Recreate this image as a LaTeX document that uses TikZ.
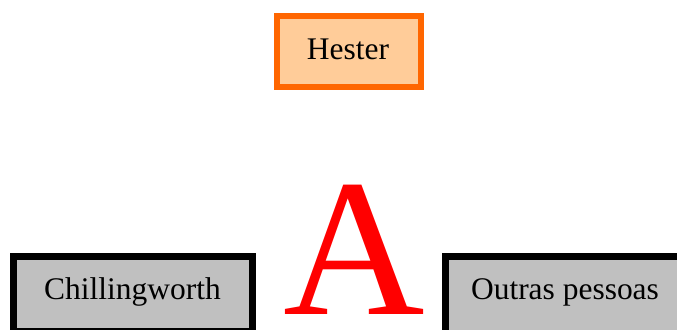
\documentclass[tikz,border=0pt]{standalone}
\usepackage{fontspec}
\setmainfont{Liberation Serif}
\definecolor{hesterfill}{HTML}{FFCC99}
\definecolor{hesterline}{HTML}{FF6600}
\definecolor{boxgray}{HTML}{C0C0C0}
\begin{document}
\begin{tikzpicture}[x=0.75pt,y=-0.75pt,
  box/.style={draw, rectangle, inner sep=0pt, outer sep=0pt},
  label/.style={font=\fontsize{23.6pt}{28pt}\selectfont, anchor=base, inner sep=0pt}]
\useasboundingbox (0,0) rectangle (677,329);
\clip (0,0) rectangle (677,329);
% Hester
\node[box, fill=hesterfill, draw=hesterline, line width=4.5pt,
      minimum width=108pt, minimum height=53.25pt] (hester) at (349,51.5) {};
\node[label] (hestertext) at (348,59.3) {Hester};
% Chillingworth
\node[box, fill=boxgray, line width=5.25pt,
      minimum width=179.25pt, minimum height=56.25pt] (chill) at (133,294) {};
\node[label] (chilltext) at (132.5,299.3) {Chillingworth};
% Outras pessoas
\node[box, fill=boxgray, line width=5.25pt,
      minimum width=187.5pt, minimum height=60pt] (outras) at (570.5,296.5) {};
\node[label] (outrastext) at (565,299.3) {Outras pessoas};
% the scarlet letter
\node[anchor=base, inner sep=0pt, text=red,
      font=\fontsize{147pt}{150pt}\selectfont] (letter) at (354,314) {A};
\end{tikzpicture}
\end{document}
